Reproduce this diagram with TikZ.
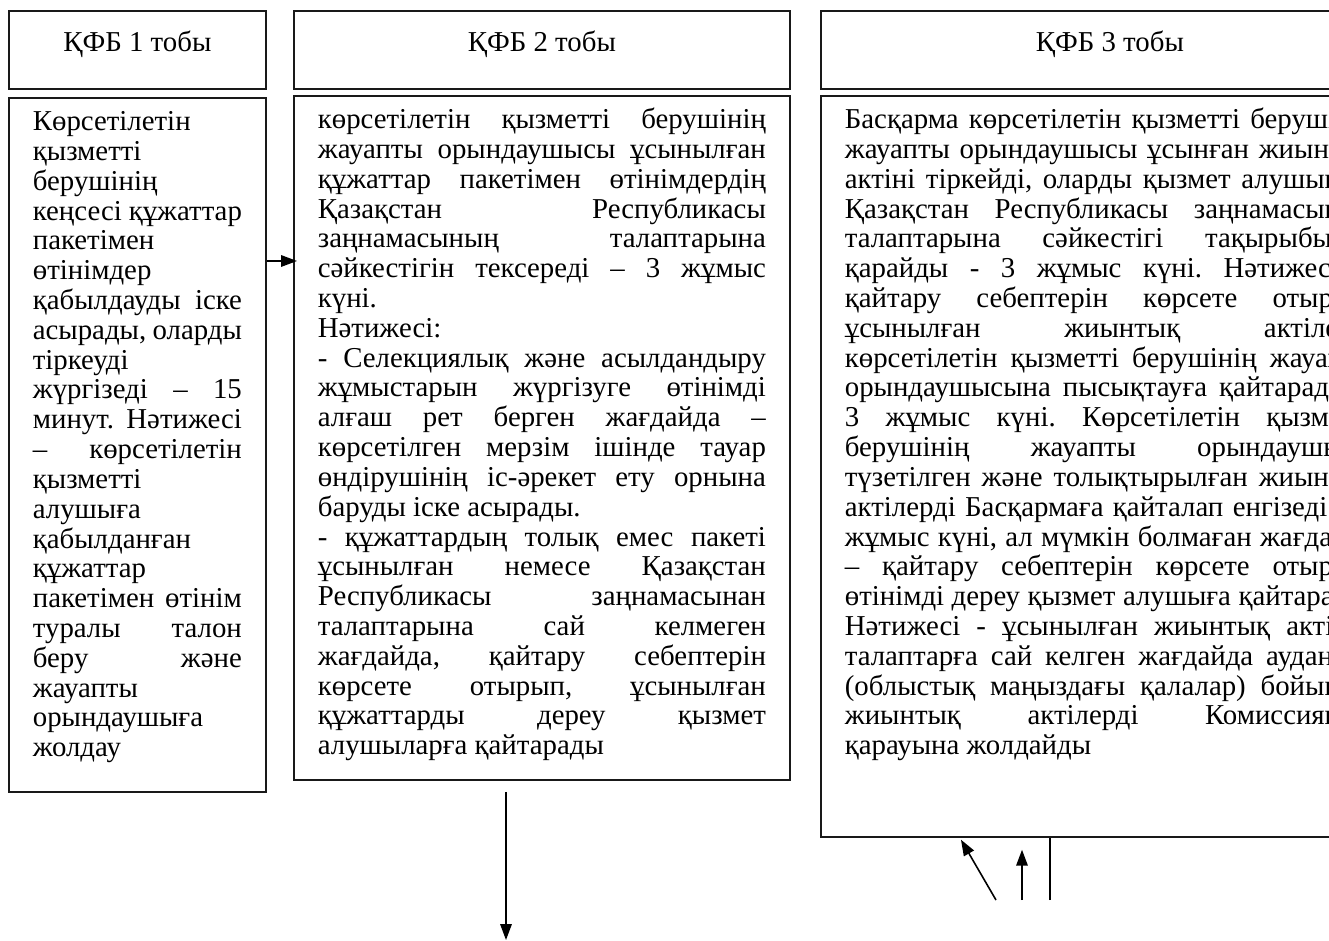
\documentclass[tikz,border=0pt]{standalone}
\usepackage{fontspec}
\setmainfont{Liberation Serif}
\usetikzlibrary{calc}
\usetikzlibrary{arrows.meta}
\frenchspacing

% one pixel of the scan
\newlength\upx
\setlength\upx{0.2mm}
% justified and ragged lines
\newcommand\jrow[1]{\noindent\makebox[\linewidth][s]{\strut#1}\par}
\newcommand\lrow[1]{\noindent\strut#1\par}
\newcommand\cell[3]{\parbox[c][\dimexpr#2\upx-24\upx\relax][t]{\dimexpr#1\upx-48\upx\relax}{\fontsize{16.4pt}{16.96pt}\selectfont#3}}

\begin{document}
\begin{tikzpicture}[x=0.2mm,y=-0.2mm,
  frame/.style={draw=black!90,line width=1pt,inner xsep=24\upx,inner ysep=12\upx,anchor=north west},
  head/.style={draw=black!90,line width=1pt,anchor=north west,inner sep=0pt,
    minimum height=78\upx,text height=15\upx,text depth=11\upx,font=\fontsize{16.4pt}{16.96pt}\selectfont},
  arr/.style={line width=0.9pt,-{Triangle[length=9pt,width=6.5pt]}}]
  % Boundary
  \path[use as bounding box] (0,0) rectangle (1329,941);
  \clip (0,0) rectangle (1329,941);
  % Headers
  \node[head,minimum width=257\upx] (h1) at (8,10) {ҚФБ 1 тобы};
  \node[head,minimum width=496\upx] (h2) at (293,10) {ҚФБ 2 тобы};
  \node[head,minimum width=578\upx] (h3) at (820,10) {ҚФБ 3 тобы};
  % Steps
  \node[frame] (b1) at (8,97) {\cell{257}{694}{%
    \lrow{Көрсетілетін}
    \lrow{қызметті}
    \lrow{берушінің}
    \jrow{кеңсесі құжаттар}
    \lrow{пакетімен}
    \lrow{өтінімдер}
    \jrow{қабылдауды іске}
    \jrow{асырады, оларды}
    \lrow{тіркеуді}
    \jrow{жүргізеді – 15}
    \jrow{минут. Нәтижесі}
    \jrow{– көрсетілетін}
    \lrow{қызметті}
    \lrow{алушыға}
    \lrow{қабылданған}
    \lrow{құжаттар}
    \jrow{пакетімен өтінім}
    \jrow{туралы талон}
    \jrow{беру және}
    \lrow{жауапты}
    \lrow{орындаушыға}
    \lrow{жолдау}}};
  \node[frame] (b2) at (293,95) {\cell{496}{684}{%
    \jrow{көрсетілетін қызметті берушінің}
    \jrow{жауапты орындаушысы ұсынылған}
    \jrow{құжаттар пакетімен өтінімдердің}
    \jrow{Қазақстан Республикасы}
    \jrow{заңнамасының талаптарына}
    \jrow{сәйкестігін тексереді – 3 жұмыс}
    \lrow{күні.}
    \lrow{Нәтижесі:}
    \jrow{- Селекциялық және асылдандыру}
    \jrow{жұмыстарын жүргізуге өтінімді}
    \jrow{алғаш рет берген жағдайда –}
    \jrow{көрсетілген мерзім ішінде тауар}
    \jrow{өндірушінің іс-әрекет ету орнына}
    \lrow{баруды іске асырады.}
    \jrow{- құжаттардың толық емес пакеті}
    \jrow{ұсынылған немесе Қазақстан}
    \jrow{Республикасы заңнамасынан}
    \jrow{талаптарына сай келмеген}
    \jrow{жағдайда, қайтару себептерін}
    \jrow{көрсете отырып, ұсынылған}
    \jrow{құжаттарды дереу қызмет}
    \lrow{алушыларға қайтарады}}};
  \node[frame] (b3) at (820,95) {\cell{578}{741}{%
    \jrow{Басқарма көрсетілетін қызметті берушінің}
    \jrow{жауапты орындаушысы ұсынған жиынтық}
    \jrow{актіні тіркейді, оларды қызмет алушының}
    \jrow{Қазақстан Республикасы заңнамасының}
    \jrow{талаптарына сәйкестігі тақырыбында}
    \jrow{қарайды - 3 жұмыс күні. Нәтижесі –}
    \jrow{қайтару себептерін көрсете отырып,}
    \jrow{ұсынылған жиынтық актілерді}
    \jrow{көрсетілетін қызметті берушінің жауапты}
    \jrow{орындаушысына пысықтауға қайтарады –}
    \jrow{3 жұмыс күні. Көрсетілетін қызметті}
    \jrow{берушінің жауапты орындаушысы}
    \jrow{түзетілген және толықтырылған жиынтық}
    \jrow{актілерді Басқармаға қайталап енгізеді – 1}
    \jrow{жұмыс күні, ал мүмкін болмаған жағдайда}
    \jrow{– қайтару себептерін көрсете отырып,}
    \jrow{өтінімді дереу қызмет алушыға қайтарады.}
    \jrow{Нәтижесі - ұсынылған жиынтық актілер}
    \jrow{талаптарға сай келген жағдайда аудандар}
    \jrow{(облыстық маңыздағы қалалар) бойынша}
    \jrow{жиынтық актілерді Комиссияның}
    \lrow{қарауына жолдайды}}};
  % Connectors
  \coordinate (m) at (0,261);
  \draw[arr] (b1.east |- m) -- ($(b2.west |- m)+(4,0)$);
  \coordinate (dn) at (506,940);
  \draw[arr] ($(b2.south -| dn)+(0,11)$) -- (dn);
  \coordinate (r1) at (996,900);
  \coordinate (r2) at (1022,900);
  \coordinate (r3) at (1050,900);
  \draw[arr] (r1) -- ($(b3.south west)+(141,2)$);
  \draw[arr] (r2) -- ($(b3.south -| r2)+(0,12)$);
  \draw[line width=0.9pt] (r3) -- (b3.south -| r3);
\end{tikzpicture}
\end{document}
